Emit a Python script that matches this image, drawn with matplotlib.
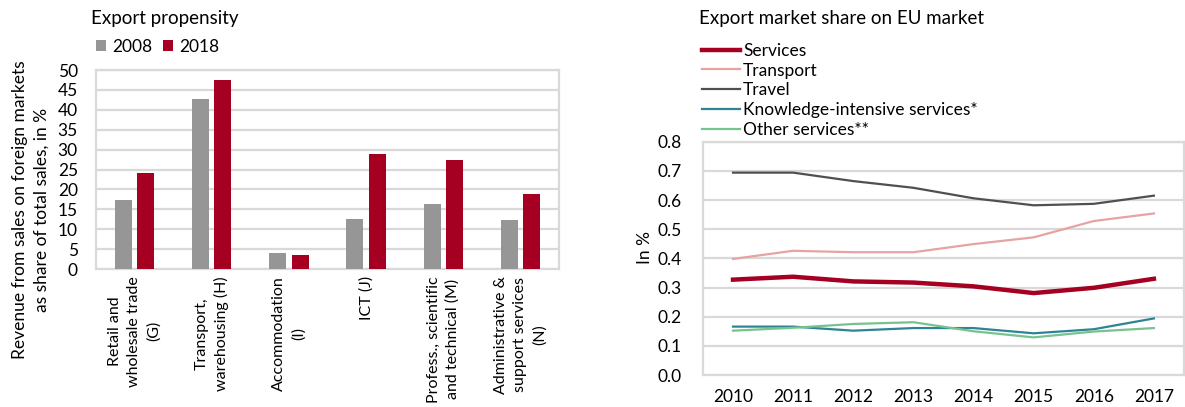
# export propensity and EU market share - two panels side by side
import matplotlib.pyplot as plt
import numpy as np

plt.rcParams['font.family'] = ['Lato', 'DejaVu Sans']

# left panel data
categories = ['Retail and\nwholesale trade\n(G)', 'Transport,\nwarehousing (H)',
              'Accommodation\n(I)', 'ICT (J)',
              'Profess., scientific\nand technical (M)',
              'Administrative &\nsupport services\n(N)']
vals_2008 = [17.3, 42.7, 4.1, 12.6, 16.3, 12.3]
vals_2018 = [24.0, 47.5, 3.5, 28.8, 27.5, 18.8]

# right panel data
years = [2010, 2011, 2012, 2013, 2014, 2015, 2016, 2017]
services = [0.327, 0.337, 0.321, 0.317, 0.304, 0.281, 0.299, 0.330]
transport = [0.398, 0.426, 0.421, 0.421, 0.449, 0.472, 0.528, 0.554]
travel = [0.694, 0.694, 0.665, 0.642, 0.606, 0.582, 0.587, 0.615]
knowledge = [0.166, 0.166, 0.152, 0.161, 0.161, 0.143, 0.157, 0.194]
other = [0.152, 0.162, 0.175, 0.181, 0.150, 0.129, 0.149, 0.161]

GRID = '#D9D9D9'
RED = '#A50021'
GREY = '#969696'
FS = 12.5

fig = plt.figure(figsize=(11.85, 4.07), dpi=100)

# --- left: bars ---
ax1 = fig.add_axes([0.081, 0.339, 0.3907, 0.489])
x = np.arange(len(categories))
w = 0.22
ax1.bar(x - 0.145, vals_2008, w, color=GREY, label='2008', zorder=3)
ax1.bar(x + 0.145, vals_2018, w, color=RED, label='2018', zorder=3)
ax1.set_xlim(-0.5, 5.5)
ax1.set_ylim(0, 50)
ax1.set_yticks(range(0, 51, 5))
ax1.set_xticks(x)
ax1.set_xticklabels(categories, rotation=90, ha='center', va='top',
                    multialignment='center', linespacing=1.45, fontsize=11.5)
ax1.tick_params(axis='both', length=0, colors='black')
ax1.tick_params(axis='y', pad=13, labelsize=FS)
ax1.tick_params(axis='x', pad=5)
ax1.grid(axis='y', color=GRID, linewidth=1.6, zorder=0)
for s in ax1.spines.values():
    s.set_color(GRID)
    s.set_linewidth(1.6)
ax1.legend(loc='upper left', bbox_to_anchor=(0.081, 0.905), bbox_transform=fig.transFigure,
           ncol=2, frameon=False, fontsize=FS, handlelength=0.6, handleheight=0.6,
           handletextpad=0.35, columnspacing=0.6, borderaxespad=0, borderpad=0)
fig.text(0.077, 0.955, 'Export propensity', fontsize=13.5, va='center', ha='left')
fig.text(0.026, 1 - 210 / 407, 'Revenue from sales on foreign markets\nas share of total sales, in %',
         rotation=90, ha='center', va='center', multialignment='center', fontsize=FS,
         linespacing=1.5)

# --- right: lines ---
ax2 = fig.add_axes([0.5932, 0.0786, 0.4059, 0.5732])
ax2.plot(years, services, color=RED, linewidth=3.2, label='Services', zorder=4)
ax2.plot(years, transport, color='#E6A3A3', linewidth=1.6, label='Transport', zorder=3)
ax2.plot(years, travel, color='#505050', linewidth=1.6, label='Travel', zorder=3)
ax2.plot(years, knowledge, color='#2E8494', linewidth=1.6, label='Knowledge-intensive services*', zorder=3)
ax2.plot(years, other, color='#77C28F', linewidth=1.6, label='Other services**', zorder=3)
ax2.set_xlim(2009.5, 2017.5)
ax2.set_ylim(0, 0.8)
ax2.set_yticks(np.arange(0, 0.81, 0.1))
ax2.set_yticklabels(['%.1f' % v for v in np.arange(0, 0.81, 0.1)])
ax2.set_xticks(years)
ax2.tick_params(axis='both', length=0, labelsize=FS, colors='black')
ax2.tick_params(axis='y', pad=15)
ax2.tick_params(axis='x', pad=10)
ax2.grid(axis='y', color=GRID, linewidth=1.6, zorder=0)
for s in ax2.spines.values():
    s.set_color(GRID)
    s.set_linewidth(1.6)
ax2.legend(loc='upper left', bbox_to_anchor=(0.592, 0.895), bbox_transform=fig.transFigure,
           frameon=False, fontsize=FS, handlelength=2.2, handletextpad=0.2,
           labelspacing=0.22, borderaxespad=0, borderpad=0)
fig.text(0.59, 0.955, 'Export market share on EU market', fontsize=13.5, va='center', ha='left')
fig.text(0.544, 1 - 248 / 407, 'In %', rotation=90, ha='center', va='center', fontsize=FS)

fig.savefig('out.png', dpi=100)
